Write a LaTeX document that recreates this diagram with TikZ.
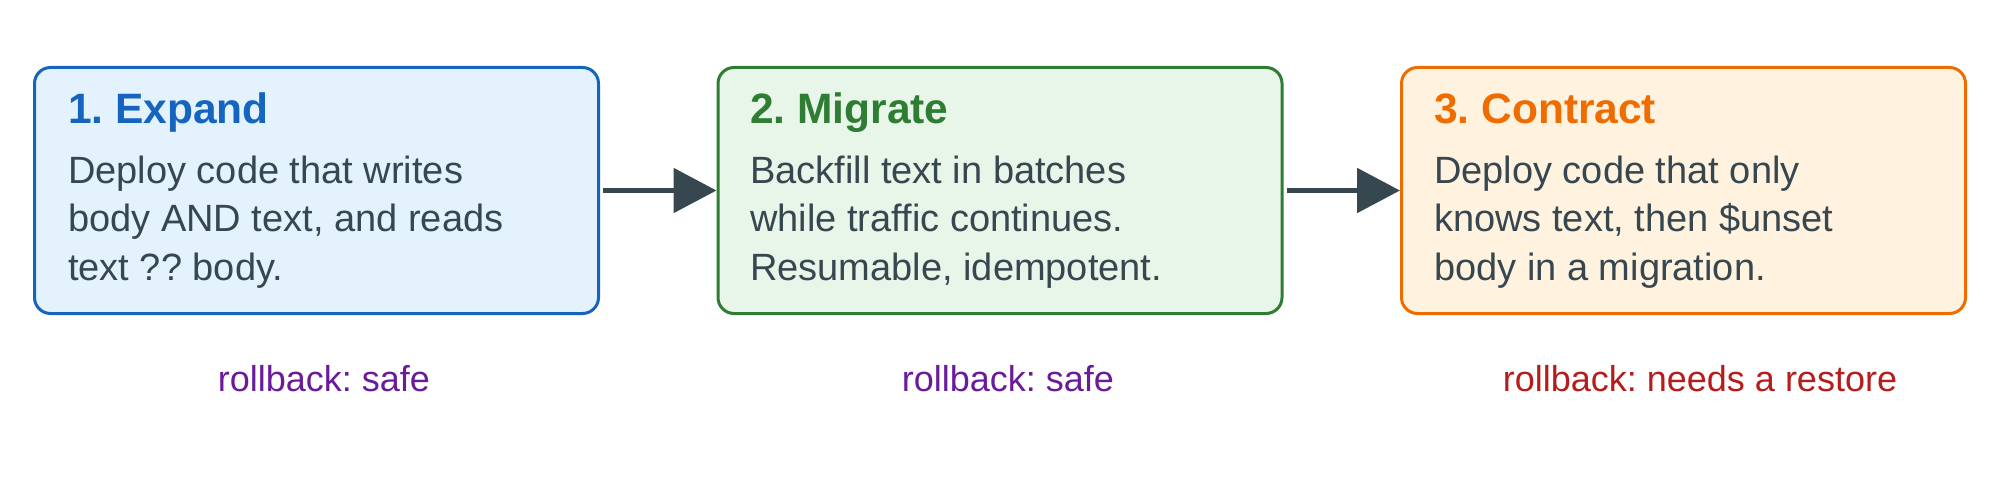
\documentclass[tikz,border=0pt]{standalone}
\usepackage{fontspec}
\setmainfont{Liberation Sans}
\frenchspacing
\usetikzlibrary{arrows.meta,positioning}
\definecolor{inkgrey}{HTML}{37474F}
\definecolor{expandline}{HTML}{1565C0}
\definecolor{expandfill}{HTML}{E3F2FD}
\definecolor{migrateline}{HTML}{2E7D32}
\definecolor{migratefill}{HTML}{E8F5E9}
\definecolor{contractline}{HTML}{EF6C00}
\definecolor{contractfill}{HTML}{FFF3E0}
\definecolor{safepurple}{HTML}{6A1B9A}
\definecolor{restorered}{HTML}{B71C1C}
\begin{document}
\begin{tikzpicture}[x=1pt,y=-1pt,
    stage/.style={draw,line width=3pt,rounded corners=16pt,minimum width=564pt,minimum height=246pt,inner sep=0},
    heading/.style={anchor=base west,inner sep=0,font=\fontsize{42.5}{50}\selectfont\bfseries},
    detail/.style={anchor=base west,inner sep=0,align=left,text=inkgrey,font=\fontsize{38}{48.7}\selectfont},
    rollback/.style={anchor=base,inner sep=0,font=\fontsize{36}{43}\selectfont},
    flow/.style={-{Triangle[length=43pt,width=44pt]},line width=5.5pt,draw=inkgrey,shorten <=3pt}]
    \useasboundingbox (0,0) rectangle (2000,500);

    \node[stage,draw=expandline,fill=expandfill] (expand) at (316.5,190.5) {};
    \node[stage,draw=migrateline,fill=migratefill] (migrate) at (1000,190.5) {};
    \node[stage,draw=contractline,fill=contractfill] (contract) at (1683.5,190.5) {};

    \node[heading,text=expandline] (expandhead) at (68,124) {1. Expand};
    \node[heading,text=migrateline] (migratehead) at (750,124) {2. Migrate};
    \node[heading,text=contractline] (contracthead) at (1434,124) {3. Contract};

    % base of the last line
    \node[detail] (expandtext) at (68,280.4) {Deploy code that writes\\body AND text, and reads\\text ?? body.};
    \node[detail] (migratetext) at (750,280.4) {Backfill text in batches\\while traffic continues.\\Resumable, idempotent.};
    \node[detail] (contracttext) at (1434,280.4) {Deploy code that only\\knows text, then \$unset\\body in a migration.};

    \draw[flow] (expand) -- (migrate);
    \draw[flow] (migrate) -- (contract);

    \node[rollback,text=safepurple] (expandrisk) at (324,391) {rollback: safe};
    \node[rollback,text=safepurple] (migraterisk) at (1008,391) {rollback: safe};
    \node[rollback,text=restorered] (contractrisk) at (1700,391) {rollback: needs a restore};
\end{tikzpicture}
\end{document}
